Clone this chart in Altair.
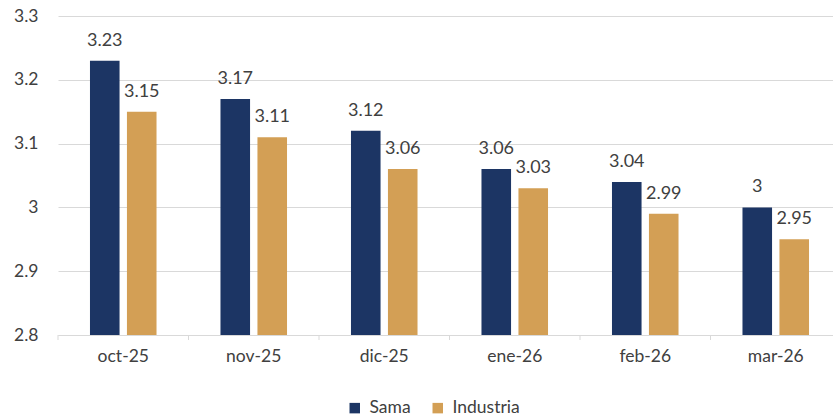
import altair as alt
import pandas as pd

# Monthly values for each series
months = ["oct-25", "nov-25", "dic-25", "ene-26", "feb-26", "mar-26"]
sama = [3.23, 3.17, 3.12, 3.06, 3.04, 3.00]
industria = [3.15, 3.11, 3.06, 3.03, 2.99, 2.95]
series = ["Sama", "Industria"]
colors = ["#1C3564", "#D39F55"]
y_ticks = [2.8, 2.9, 3.0, 3.1, 3.2, 3.3]

rows = []
for m, s, i in zip(months, sama, industria):
    rows.append({"mes": m, "serie": "Sama", "valor": s, "etiqueta": f"{s:g}"})
    rows.append({"mes": m, "serie": "Industria", "valor": i, "etiqueta": f"{i:g}"})
df = pd.DataFrame(rows)
month_df = pd.DataFrame({"mes": months})

FONT = "Lato"
TXT = "#404040"
GRID = "#D9D9D9"

# The category axis runs slightly past the right edge of the canvas
x_scale = alt.Scale(paddingInner=0, paddingOuter=0, range=[0, 783])
xoff_scale = alt.Scale(paddingInner=0.2, paddingOuter=0.865)

x_enc = alt.X(
    "mes:N",
    sort=months,
    title=None,
    scale=x_scale,
    axis=alt.Axis(
        labelAngle=0,
        labelFontSize=17.5,
        labelFont=FONT,
        labelColor=TXT,
        labelPadding=12,
        ticks=False,
        domainColor=GRID,
        domainWidth=1,
    ),
)
xoff_enc = alt.XOffset("serie:N", sort=series, scale=xoff_scale)
y_scale = alt.Scale(domain=[2.8, 3.3], nice=False, zero=False, clamp=True)

bars = alt.Chart(df).mark_bar().encode(
    x=x_enc,
    xOffset=xoff_enc,
    y=alt.Y(
        "valor:Q",
        scale=y_scale,
        title=None,
        axis=alt.Axis(
            values=y_ticks,
            labelExpr="format(datum.value, '~g')",
            labelFontSize=17.5,
            labelFont=FONT,
            labelColor=TXT,
            labelPadding=20,
            ticks=False,
            domain=False,
            grid=True,
            gridColor=GRID,
            gridWidth=1,
        ),
    ),
    y2=alt.datum(2.8),
    color=alt.Color(
        "serie:N",
        sort=series,
        scale=alt.Scale(domain=series, range=colors),
        legend=alt.Legend(
            title=None,
            orient="none",
            legendX=288,
            legendY=383,
            direction="horizontal",
            symbolType="square",
            symbolSize=110,
            symbolStrokeWidth=0,
            labelFontSize=17.5,
            labelFont=FONT,
            labelColor=TXT,
            labelOffset=6,
            columnPadding=18,
        ),
    ),
)

# Small tick marks at the category boundaries below the baseline
ticks = alt.Chart(month_df).mark_rule(color=GRID, strokeWidth=1).encode(
    x=alt.X("mes:N", sort=months, scale=x_scale, bandPosition=0),
    y=alt.datum(2.8, scale=y_scale),
    y2=alt.value(324),
)

labels = alt.Chart(df).mark_text(
    fontSize=18, font=FONT, color=TXT, baseline="alphabetic", dy=-15
).encode(
    x=alt.X("mes:N", sort=months, scale=x_scale),
    xOffset=alt.XOffset("serie:N", sort=series, scale=xoff_scale),
    y=alt.Y("valor:Q", scale=y_scale),
    text="etiqueta:N",
)

chart = (
    alt.layer(bars, ticks, labels)
    .properties(
        width=775,
        height=319,
        autosize=alt.AutoSizeParams(type="none"),
        padding={"left": 58, "top": 16, "right": 0, "bottom": 84},
        background="white",
    )
    .configure_view(stroke=None)
)

chart.save("out.html", embed_options={"renderer": "svg", "actions": False})
